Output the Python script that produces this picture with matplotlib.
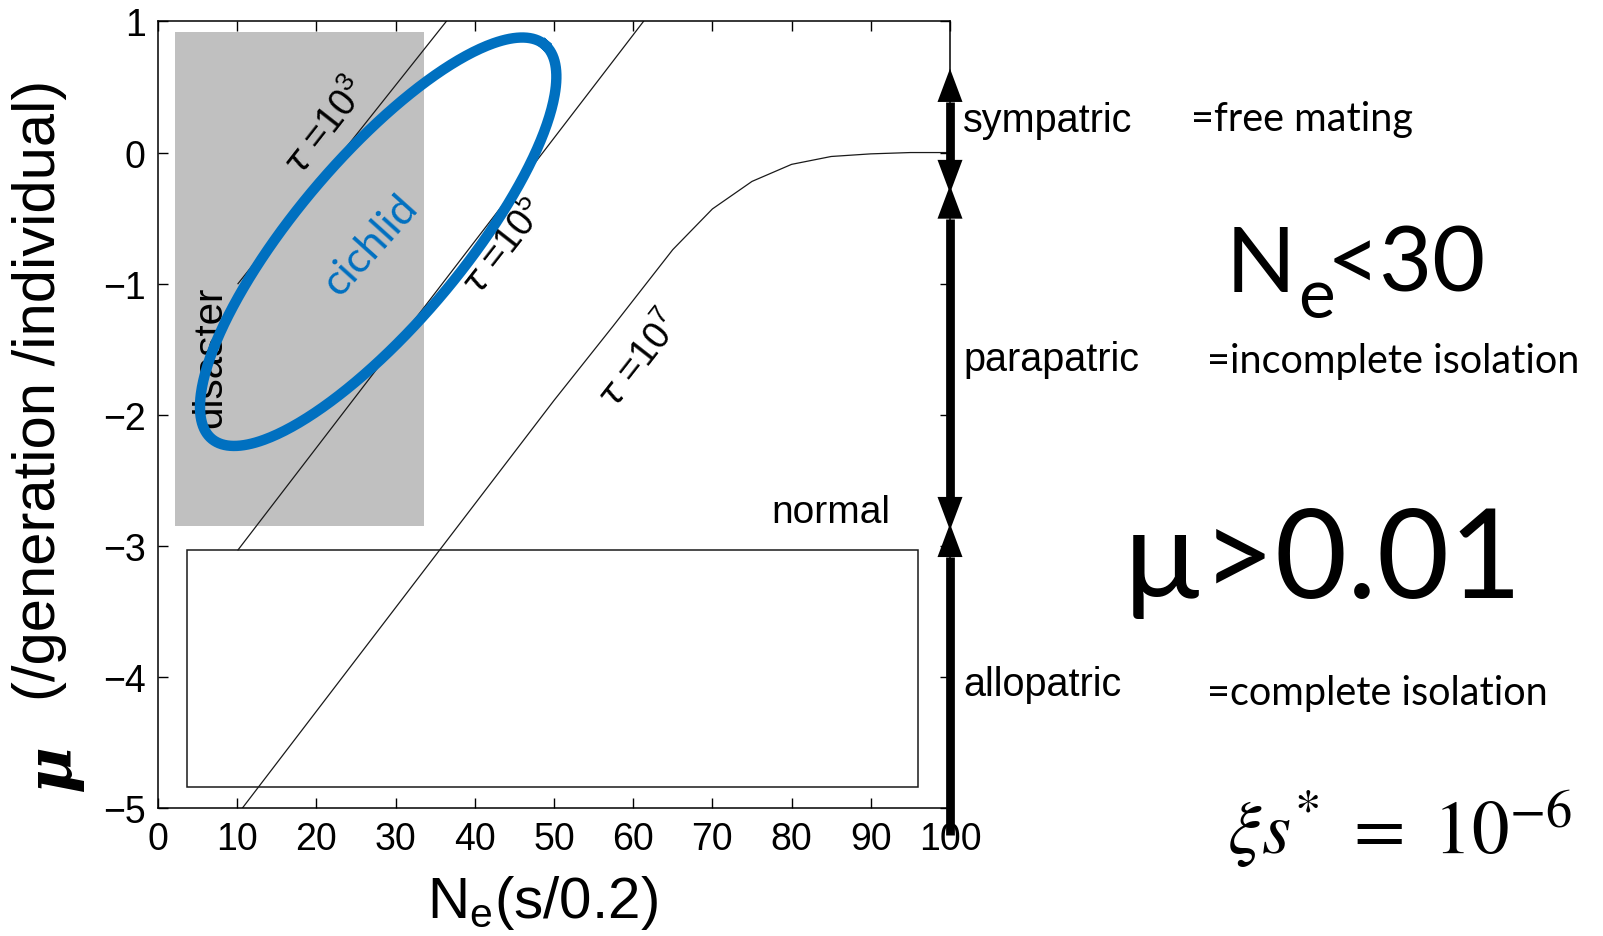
import numpy as np
import matplotlib
matplotlib.use("Agg")
import matplotlib.pyplot as plt
from matplotlib.patches import Rectangle

plt.rcParams['font.family'] = ['Liberation Sans', 'DejaVu Sans']
plt.rcParams['axes.unicode_minus'] = True

# ---- data ----
x_ticks = [0, 10, 20, 30, 40, 50, 60, 70, 80, 90, 100]
y_ticks = [-5, -4, -3, -2, -1, 0, 1]

# tau = 10^3 and 10^5 contours (straight lines, start / end points)
tau3_x = [10.1, 36.4]
tau3_y = [-1.0, 1.0]
tau5_x = [10.1, 61.3]
tau5_y = [-3.03, 1.0]
# tau = 10^7 contour, bends over to mu = 0
tau7_x = [10, 20, 30, 40, 50, 57.5, 65, 70, 75, 80, 85, 90, 95, 100]
tau7_y = [-5.05, -4.26, -3.47, -2.68, -1.89, -1.32, -0.74, -0.43, -0.22,
          -0.09, -0.03, -0.01, 0.0, 0.0]

# shaded "disaster" region and "normal" box (x0, x1, y0, y1)
disaster_box = [2.1, 33.6, -2.85, 0.92]
normal_box = [3.7, 96.0, -4.84, -3.03]

# cichlid ellipse: centre in data, semi axes in pixels, screen angle
cichlid_center = (27.8, -0.68)
cichlid_axes_px = (258, 83)
cichlid_angle = 49.8

# speciation mode arrows along N=100: (bottom tip, top tip)
mode_names = ['sympatric', 'parapatric', 'allopatric']
mode_ranges = [(-0.31, 0.64), (-2.88, -0.25), (-5.2, -2.83)]
mode_label_y = [120.6, 360, 685]          # px, label centres
mode_notes = ['=free mating', '=incomplete isolation', '=complete isolation']
mode_note_x = [1191, 1207, 1207]          # px, left edges
mode_note_base = [131, 373, 705]          # px, baselines

W, H = 1603, 937
fig = plt.figure(figsize=(W / 100, H / 100), dpi=100)
ax = fig.add_axes([158 / W, 1 - 809.3 / H, (950 - 158) / W, (809.3 - 22.4) / H])
ax.set_xlim(0, 100)
ax.set_ylim(-5, 1)


def fx(px):
    return px / W


def fy(py):
    return 1 - py / H


# shaded region
ax.add_patch(Rectangle((disaster_box[0], disaster_box[2]),
                       disaster_box[1] - disaster_box[0],
                       disaster_box[3] - disaster_box[2],
                       facecolor='#c0c0c0', edgecolor='none', zorder=0))
ax.add_patch(Rectangle((normal_box[0], normal_box[2]),
                       normal_box[1] - normal_box[0],
                       normal_box[3] - normal_box[2],
                       facecolor='none', edgecolor='#1a1a1a', lw=1.1, zorder=2))

# contour lines
for xs, ys in [(tau3_x, tau3_y), (tau5_x, tau5_y), (tau7_x, tau7_y)]:
    ax.plot(xs, ys, color='#1a1a1a', lw=0.9, zorder=2)

tau_kw = dict(rotation=52, fontsize=27, ha='center', va='center', zorder=3)
ax.text(21.3, 0.2, r'$\tau$ =10$^{\mathregular{3}}$', **tau_kw)
ax.text(43.8, -0.72, r'$\tau$ =10$^{\mathregular{5}}$', **tau_kw)
ax.text(60.9, -1.58, r'$\tau$ =10$^{\mathregular{7}}$', **tau_kw)

ax.text(6.6, -1.55, 'disaster', rotation=90, fontsize=29, ha='center',
        va='center', zorder=1)
ax.text(77.5, -2.74, 'normal', fontsize=28, ha='left', va='center', zorder=3)

# cichlid ellipse (built in screen space so it keeps its drawn shape)
fig.canvas.draw()
bb = ax.get_window_extent()
sx = bb.width / 100.0
sy = bb.height / 6.0
t = np.linspace(0, 2 * np.pi, 400)
a, b = cichlid_axes_px
th = np.deg2rad(cichlid_angle)
ex = cichlid_center[0] + (a * np.cos(th) * np.cos(t) - b * np.sin(th) * np.sin(t)) / sx
ey = cichlid_center[1] + (a * np.sin(th) * np.cos(t) + b * np.cos(th) * np.sin(t)) / sy
ax.plot(ex, ey, color='#0070c0', lw=7.5, zorder=4)
ax.text(26.8, -0.70, 'cichlid', rotation=48, fontsize=31, color='#0070c0',
        family=['Lato', 'DejaVu Sans'], ha='center', va='center', zorder=5)

# double arrows on the right edge
head_len_pt = 24
head_len = head_len_pt * 100 / 72 / sy
for i, (lo, hi) in enumerate(mode_ranges):
    bottom_head = i < 2
    y0 = lo + head_len if bottom_head else lo
    ax.plot([100, 100], [y0, hi - head_len], color='black', lw=6.3,
            solid_capstyle='butt', clip_on=False, zorder=6)
    style = '<|-|>' if bottom_head else '-|>'
    ax.annotate('', xy=(100, hi), xytext=(100, lo if bottom_head else hi - head_len),
                xycoords='data', annotation_clip=False,
                arrowprops=dict(arrowstyle=style + ',head_length=2.4,head_width=0.9',
                                mutation_scale=10, lw=0, color='black',
                                shrinkA=0, shrinkB=0), zorder=6)

for name, py in zip(mode_names, mode_label_y):
    fig.text(fx(963), fy(py), name, fontsize=28.5, ha='left', va='center')

for note, px, py in zip(mode_notes, mode_note_x, mode_note_base):
    fig.text(fx(px), fy(py), note, fontsize=28.5, ha='left', va='baseline',
             family=['Lato', 'DejaVu Sans'])

# N_e<30 : big subscript drawn as its own piece
fig.text(fx(1226), fy(291.7), 'N', fontsize=66, ha='left', va='baseline',
         family=['Lato', 'DejaVu Sans'])
fig.text(fx(1298), fy(318), 'e', fontsize=50, ha='left', va='baseline',
         family=['Lato', 'DejaVu Sans'])
fig.text(fx(1327), fy(291.7), '<30', fontsize=66, ha='left', va='baseline',
         family=['Lato', 'DejaVu Sans'])
fig.text(fx(1122), fy(598.3), '\u00b5>0.01', fontsize=90,
         ha='left', va='baseline', family=['Lato', 'DejaVu Sans'])
fig.text(fx(1227), fy(854), r'$\xi s^{*}\ =\ 10^{-6}$', fontsize=54,
         ha='left', va='baseline', math_fontfamily='stix')

# axes styling
ax.set_xticks(x_ticks)
ax.set_yticks(y_ticks)
ax.tick_params(direction='in', length=7, width=1, top=True, right=True,
               labelsize=27, colors='black')
ax.tick_params(axis='x', pad=9)
ax.tick_params(axis='y', pad=9)
for sp in ax.spines.values():
    sp.set_linewidth(1.1)

# axis titles
fig.text(fx(542), fy(918), r'N$_{\mathregular{e}}$(s/0.2)', fontsize=42,
         ha='center', va='baseline')
fig.text(fx(40), fy(390), '(/generation /individual)', fontsize=43,
         rotation=90, ha='center', va='center')
fig.text(fx(53), fy(768), '\u03bc', fontsize=46, rotation=90, ha='center',
         va='center', family='DejaVu Serif', weight='bold', style='italic')

fig.savefig('out.png', dpi=100)
